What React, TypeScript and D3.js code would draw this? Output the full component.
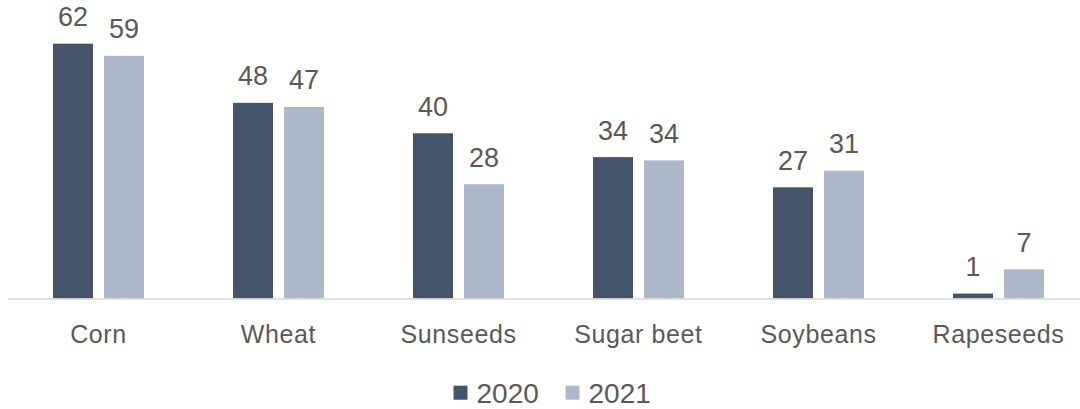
import React from "react";
import * as d3 from "d3";

const categories = ["Corn", "Wheat", "Sunseeds", "Sugar beet", "Soybeans", "Rapeseeds"];
const series = ["2020", "2021"];
const values2020 = [62, 47.6, 40.2, 34.4, 27.05, 1.2];
const values2021 = [59.05, 46.6, 27.8, 33.6, 31.1, 7.1];
const colors = ["#44546A", "#ADB9CA"];

const W = 1080;
const H = 409;
const FONT = "'Liberation Sans', Arial, sans-serif";
const TEXT = "#595959";

export default function App() {
  const baseline = 298.5;
  const y = d3.scaleLinear().domain([0, 70]).range([baseline, baseline - 4.11 * 70]);
  const x0 = d3.scaleBand<string>().domain(categories).range([8.5, 8.5 + 180 * 6]).paddingInner(0).paddingOuter(0);
  const groupW = 91;
  const x1 = d3.scaleBand<string>().domain(series).range([0, groupW]).paddingInner(11 / 51).paddingOuter(0);
  const data = [values2020, values2021];

  return (
    <svg
      width={W}
      height={H}
      style={{ position: "absolute", left: 0, top: 0, background: "#fff" }}
      fontFamily={FONT}
    >
      <rect x={0} y={0} width={W} height={H} fill="#fff" />
      {categories.map((c, i) => {
        const cx = (x0(c) as number) + x0.bandwidth() / 2;
        const gx = cx - groupW / 2;
        return (
          <g key={c}>
            {series.map((s, j) => {
              const v = data[j][i];
              const bx = gx + (x1(s) as number);
              return (
                <g key={s}>
                  <rect
                    x={bx}
                    y={y(v)}
                    width={x1.bandwidth()}
                    height={baseline - y(v)}
                    fill={colors[j]}
                  />
                  <text
                    x={bx + x1.bandwidth() / 2}
                    y={y(v) - 17.5}
                    textAnchor="middle"
                    fontSize={27}
                    fill={TEXT}
                  >
                    {Math.round(v)}
                  </text>
                </g>
              );
            })}
            <text x={cx} y={342.7} textAnchor="middle" fontSize={25} fill={TEXT} letterSpacing={0.6}>
              {c}
            </text>
          </g>
        );
      })}
      <line x1={8} x2={W} y1={baseline + 0.5} y2={baseline + 0.5} stroke="#D9D9D9" strokeWidth={1.3} />
      {series.map((s, j) => {
        const lx = j === 0 ? 453.5 : 565.5;
        return (
          <g key={s}>
            <rect x={lx} y={385.7} width={14} height={14} fill={colors[j]} />
            <text x={lx + 23} y={402.7} fontSize={28} fill={TEXT}>
              {s}
            </text>
          </g>
        );
      })}
    </svg>
  );
}
